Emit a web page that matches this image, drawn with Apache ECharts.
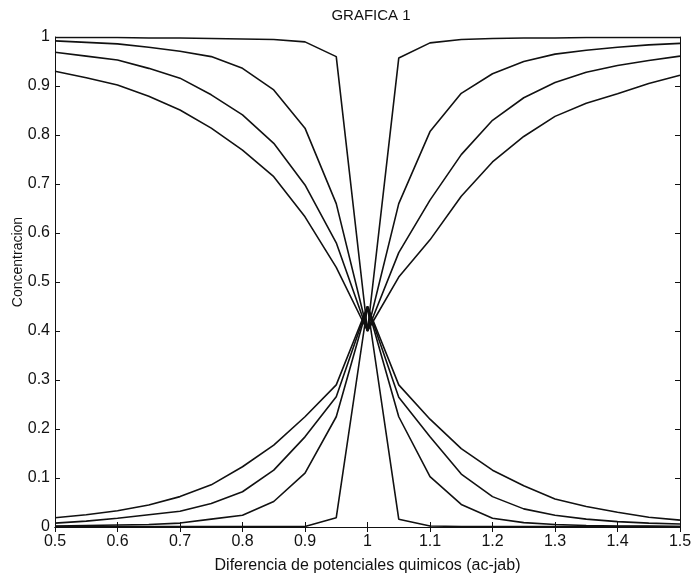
<!DOCTYPE html>
<html>
<head>
<meta charset="utf-8">
<script src="https://cdn.jsdelivr.net/npm/echarts@6/dist/echarts.min.js"></script>
<style>
  html, body { margin: 0; padding: 0; background: #fff; }
  #chart { width: 693px; height: 576px; }
</style>
</head>
<body>
<div id="chart"></div>
<script>
const xValues = [0.5, 0.55, 0.6, 0.65, 0.7, 0.75, 0.8, 0.85, 0.9, 0.95, 1.0,
  1.05, 1.1, 1.15, 1.2, 1.25, 1.3, 1.35, 1.4, 1.45, 1.5];

// upper curves (dip to the crossing at x = 1)
const upper1 = [0.999, 0.999, 0.999, 0.998, 0.998, 0.997, 0.996, 0.995, 0.99, 0.96, 0.40,
  0.957, 0.988, 0.995, 0.997, 0.998, 0.998, 0.999, 0.999, 0.999, 0.999];
const upper2 = [0.992, 0.989, 0.986, 0.979, 0.971, 0.96, 0.936, 0.892, 0.814, 0.66, 0.40,
  0.66, 0.807, 0.885, 0.925, 0.95, 0.965, 0.973, 0.979, 0.984, 0.987];
const upper3 = [0.969, 0.961, 0.953, 0.936, 0.916, 0.882, 0.841, 0.783, 0.698, 0.58, 0.40,
  0.56, 0.667, 0.76, 0.83, 0.876, 0.907, 0.928, 0.942, 0.952, 0.961];
const upper4 = [0.93, 0.917, 0.902, 0.879, 0.851, 0.814, 0.769, 0.715, 0.633, 0.53, 0.40,
  0.51, 0.586, 0.675, 0.745, 0.797, 0.838, 0.865, 0.884, 0.905, 0.922];

// lower curves (peak at the crossing)
const lower1 = [0.019, 0.025, 0.033, 0.045, 0.062, 0.086, 0.123, 0.167, 0.225, 0.29, 0.45,
  0.29, 0.22, 0.16, 0.116, 0.084, 0.057, 0.042, 0.03, 0.02, 0.014];
const lower2 = [0.008, 0.012, 0.018, 0.025, 0.032, 0.048, 0.072, 0.116, 0.184, 0.266, 0.45,
  0.265, 0.184, 0.108, 0.062, 0.037, 0.024, 0.016, 0.011, 0.008, 0.006];
const lower3 = [0.002, 0.003, 0.004, 0.005, 0.008, 0.016, 0.024, 0.052, 0.11, 0.225, 0.45,
  0.225, 0.103, 0.046, 0.018, 0.009, 0.005, 0.003, 0.002, 0.002, 0.001];
const lower4 = [0.001, 0.001, 0.001, 0.001, 0.001, 0.001, 0.001, 0.001, 0.001, 0.019, 0.45,
  0.016, 0.002, 0.001, 0.001, 0.001, 0.001, 0.001, 0.001, 0.001, 0.001];

const allCurves = [upper1, upper2, upper3, upper4, lower1, lower2, lower3, lower4];

const font = 'Liberation Sans, Arial, sans-serif';
const ink = '#111';

const chart = echarts.init(document.getElementById('chart'));

const boxAxis = {
  min: 0, max: 1, interval: 0.1,
  axisLine: { show: true, lineStyle: { color: ink, width: 1 } },
  axisTick: { show: true, inside: true, length: 5, lineStyle: { color: ink } },
  axisLabel: { show: false },
  splitLine: { show: false }
};

chart.setOption({
  animation: false,
  title: {
    text: 'GRAFICA 1',
    left: 366, top: 3,
    textAlign: 'center',
    textStyle: { fontFamily: font, fontSize: 15, fontWeight: 'normal', color: ink }
  },
  // y axis title sits a little above the plot centre in the original
  graphic: [{
    type: 'text',
    x: 18, y: 262,
    rotation: Math.PI / 2,
    style: {
      text: 'Concentracion',
      font: '14px ' + font,
      fill: ink,
      align: 'center',
      verticalAlign: 'middle'
    }
  }],
  grid: { left: 55, right: 13, top: 37, bottom: 49, containLabel: false, outerBoundsMode: 'none' },
  xAxis: [
    {
      type: 'value', position: 'bottom',
      min: 0.5, max: 1.5, interval: 0.1,
      name: 'Diferencia de potenciales quimicos (ac-jab)',
      nameLocation: 'middle', nameGap: 31,
      nameTextStyle: { fontFamily: font, fontSize: 16, color: ink },
      axisLine: { show: true, onZero: false, lineStyle: { color: ink, width: 1 } },
      axisTick: { show: true, inside: true, length: 5, lineStyle: { color: ink } },
      axisLabel: {
        fontFamily: font, fontSize: 16, color: ink, margin: 7,
        formatter: v => String(Math.round(v * 10) / 10)
      },
      splitLine: { show: false }
    },
    Object.assign({}, boxAxis, { type: 'value', position: 'top', min: 0.5, max: 1.5, interval: 0.1 })
  ],
  yAxis: [
    {
      type: 'value', position: 'left',
      min: 0, max: 1, interval: 0.1,
      axisLine: { show: true, lineStyle: { color: ink, width: 1 } },
      axisTick: { show: true, inside: true, length: 5, lineStyle: { color: ink } },
      axisLabel: {
        fontFamily: font, fontSize: 16, color: ink, margin: 5,
        formatter: v => String(Math.round(v * 10) / 10)
      },
      splitLine: { show: false }
    },
    Object.assign({}, boxAxis, { type: 'value', position: 'right' })
  ],
  series: allCurves.map(curve => ({
    type: 'line',
    xAxisIndex: 0,
    yAxisIndex: 0,
    showSymbol: false,
    silent: true,
    lineStyle: { color: ink, width: 1.6 },
    data: xValues.map((x, i) => [x, curve[i]])
  }))
});
</script>
</body>
</html>
